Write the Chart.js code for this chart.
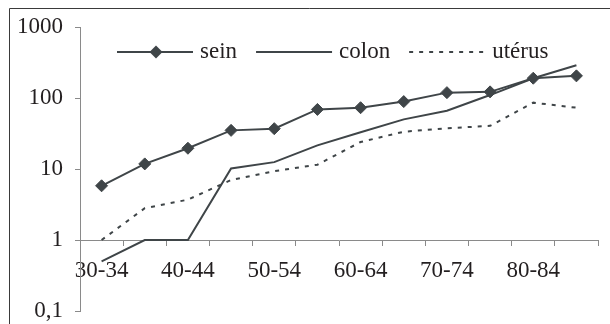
<!DOCTYPE html>
<html>
<head>
<meta charset="utf-8">
<script src="https://cdn.jsdelivr.net/npm/chart.js@4"></script>
<style>
  html, body { margin: 0; padding: 0; background: #fff; }
  #wrap { position: relative; width: 610px; height: 324px; }
</style>
</head>
<body>
<div id="wrap"><canvas id="c" width="610" height="324"></canvas></div>
<script>
// ---- data ----
const categories = ['30-34','35-39','40-44','45-49','50-54','55-59','60-64','65-69','70-74','75-79','80-84','85-89'];
const seinValues   = [5.8, 11.8, 19.6, 35, 37, 69, 73, 89, 119, 122, 190, 205];
const colonValues  = [0.5, 1, 1, 10.2, 12.5, 21.5, 33, 50, 66, 110, 190, 290];
const uterusValues = [1, 2.8, 3.7, 7.0, 9.3, 11.5, 24, 33.5, 37.5, 40.5, 86, 73];
const seriesNames = ['sein', 'colon', 'utérus'];
const yTickValues = [0.1, 1, 10, 100, 1000];
const yTickLabels = ['0,1', '1', '10', '100', '1000'];

const LINE = '#3f4548';
const AXIS = '#8a8a8a';
const TEXT = '#231f20';
const FONT = { family: '"Liberation Serif", "Times New Roman", serif', size: 23 };

const framePlugin = {
  id: 'frame',
  beforeDraw(chart) {
    const ctx = chart.ctx;
    ctx.save();
    ctx.strokeStyle = '#3a3a3a';
    ctx.lineWidth = 1;
    ctx.beginPath();
    ctx.moveTo(9.5, 324);
    ctx.lineTo(9.5, 8.5);
    ctx.lineTo(610, 8.5);
    ctx.stroke();
    ctx.restore();
  }
};

const legendPlugin = {
  id: 'customLegend',
  afterDraw(chart) {
    const ctx = chart.ctx;
    ctx.save();
    ctx.font = FONT.size + 'px ' + FONT.family;
    ctx.textBaseline = 'middle';
    ctx.fillStyle = TEXT;
    let x = 117;
    const y = 52;
    chart.data.datasets.forEach(ds => {
      ctx.save();
      ctx.strokeStyle = ds.borderColor;
      ctx.lineWidth = ds.borderWidth;
      ctx.setLineDash(ds.borderDash || []);
      ctx.beginPath();
      ctx.moveTo(x, y);
      ctx.lineTo(x + 76, y);
      ctx.stroke();
      ctx.restore();
      if (ds.pointRadius > 0) {
        const r = ds.pointRadius + 0.5;
        const cx = x + 39;
        ctx.save();
        ctx.fillStyle = ds.pointBackgroundColor;
        ctx.beginPath();
        ctx.moveTo(cx, y - r);
        ctx.lineTo(cx + r, y);
        ctx.lineTo(cx, y + r);
        ctx.lineTo(cx - r, y);
        ctx.closePath();
        ctx.fill();
        ctx.restore();
      }
      const tx = x + 83;
      ctx.fillStyle = TEXT;
      ctx.fillText(ds.label, tx, y);
      x = tx + ctx.measureText(ds.label).width + 19;
    });
    ctx.restore();
  }
};

new Chart(document.getElementById('c'), {
  type: 'line',
  data: {
    labels: categories,
    datasets: [
      {
        label: seriesNames[0], data: seinValues,
        borderColor: LINE, borderWidth: 2, tension: 0,
        pointStyle: 'rectRot', pointRadius: 6, pointBackgroundColor: LINE,
        pointBorderColor: LINE, pointBorderWidth: 1
      },
      {
        label: seriesNames[1], data: colonValues,
        borderColor: LINE, borderWidth: 2, tension: 0, pointRadius: 0
      },
      {
        label: seriesNames[2], data: uterusValues,
        borderColor: LINE, borderWidth: 2, tension: 0, pointRadius: 0,
        borderDash: [4, 6]
      }
    ]
  },
  options: {
    responsive: false,
    animation: false,
    events: [],
    layout: { padding: { left: 10, top: 27, right: 12, bottom: 13 } },
    plugins: { legend: { display: false }, tooltip: { enabled: false } },
    scales: {
      x: {
        type: 'category',
        position: { y: 1 },
        offset: true,
        afterFit: (scale) => { scale.height = 0; scale.paddingTop = 0; scale.paddingBottom = 0; },
        grid: { offset: true, drawOnChartArea: false, drawTicks: true, tickLength: 5, color: AXIS },
        border: { display: true, color: AXIS, width: 1 },
        ticks: {
          autoSkip: false, maxRotation: 0, minRotation: 0,
          padding: 12, color: TEXT, font: FONT,
          callback: function(v, i) { return i % 2 === 0 ? this.getLabelForValue(v) : ''; }
        }
      },
      y: {
        type: 'logarithmic',
        position: 'left',
        min: 0.1, max: 1000,
        afterBuildTicks: (scale) => { scale.ticks = yTickValues.map(v => ({ value: v })); },
        afterFit: (scale) => { scale.width = 70; scale.paddingTop = 0; scale.paddingBottom = 0; },
        grid: { drawOnChartArea: false, drawTicks: true, tickLength: 5, color: AXIS },
        border: { display: true, color: AXIS, width: 1 },
        ticks: {
          padding: 12, color: TEXT, font: FONT,
          callback: (v) => { const i = yTickValues.indexOf(v); return i >= 0 ? yTickLabels[i] : ''; }
        }
      }
    }
  },
  plugins: [framePlugin, legendPlugin]
});
</script>
</body>
</html>
